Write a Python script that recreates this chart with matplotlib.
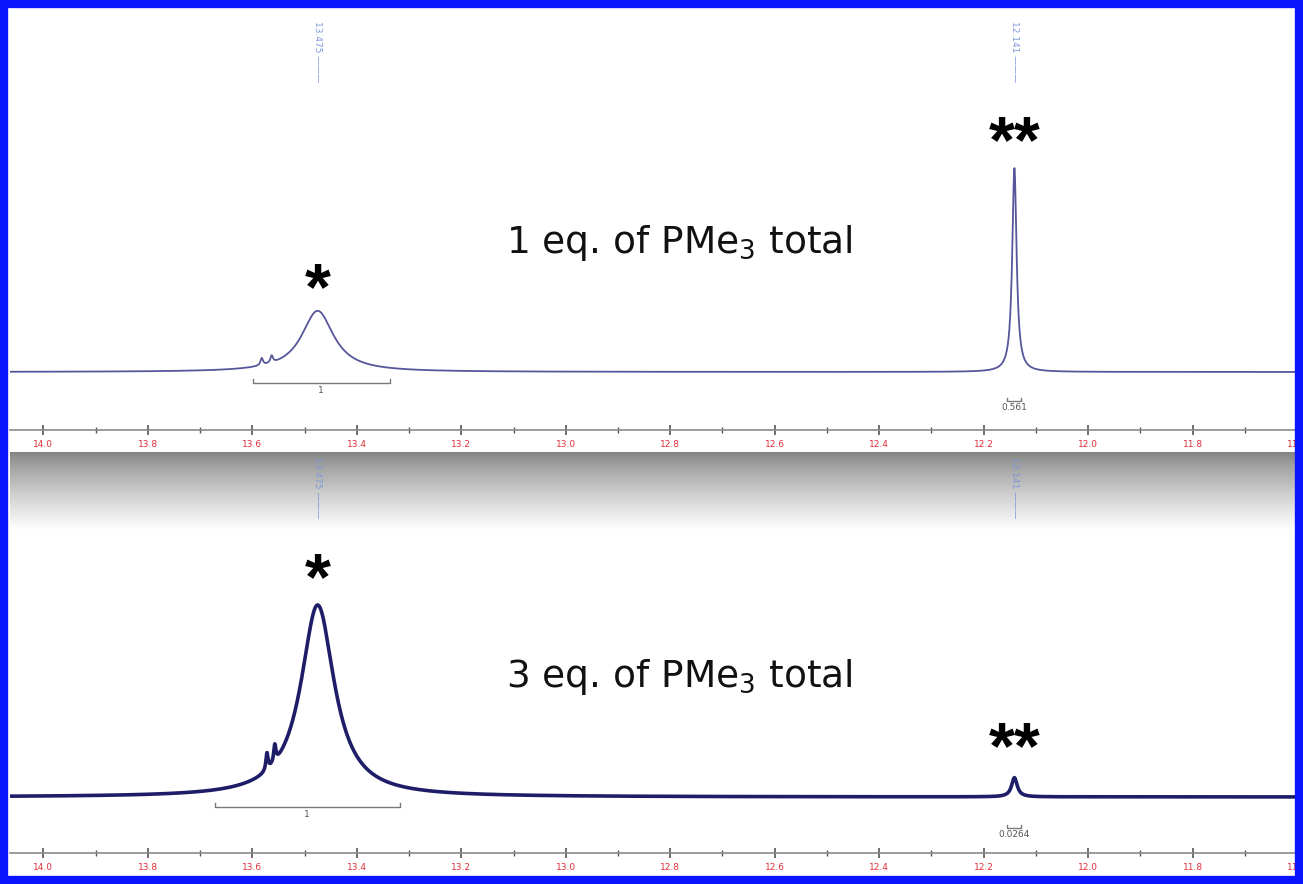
import matplotlib
matplotlib.use("Agg")
import matplotlib.pyplot as plt
import numpy as np
from matplotlib.patches import Rectangle

W, H = 1303, 884

# chemical shift axis (ppm)
TICK_PPM = [14.0, 13.8, 13.6, 13.4, 13.2, 13.0, 12.8, 12.6, 12.4, 12.2, 12.0, 11.8, 11.6]
TICK_LABELS = ["14.0", "13.8", "13.6", "13.4", "13.2", "13.0", "12.8", "12.6",
               "12.4", "12.2", "12.0", "11.8", "11.6"]
XLIM = (14.064, 11.601)

# peaks: position (ppm), relative height, width (ppm)
TOP_POS = [13.475, 13.582, 13.563, 12.141]
TOP_HEIGHT = [0.30, 0.035, 0.035, 1.0]
TOP_FWHM = [0.075, 0.006, 0.006, 0.010]

BOT_POS = [13.475, 13.572, 13.557, 12.141]
BOT_HEIGHT = [1.0, 0.09, 0.09, 0.10]
BOT_FWHM = [0.078, 0.005, 0.005, 0.013]

# peak picking labels
TOP_PICKS = [(13.475, "13.475"), (12.141, "12.141")]
BOT_PICKS = [(13.475, "13.475"), (12.141, "12.141")]

# integration regions and values
TOP_INTEGRALS = [((13.599, 13.337), "1"), ((12.155, 12.128), "0.561")]
BOT_INTEGRALS = [((13.672, 13.318), "1"), ((12.155, 12.128), "0.0264")]

TOP_TITLE = "1 eq. of PMe$_3$ total"
BOT_TITLE = "3 eq. of PMe$_3$ total"


def fx(px):
    return px / W


def fy(py):
    return 1 - py / H


def spectrum(ppm, pos, height, fwhm):
    y = np.zeros_like(ppm)
    for p, h, w in zip(pos, height, fwhm):
        g = w / 2
        y += h * g ** 2 / ((ppm - p) ** 2 + g ** 2)
    return y


def style_axis(ax):
    ax.set_xlim(*XLIM)
    ax.patch.set_alpha(0)
    for s in ("top", "left", "right"):
        ax.spines[s].set_visible(False)
    ax.spines["bottom"].set_color("#8a8a8a")
    ax.spines["bottom"].set_linewidth(1.2)
    ax.set_yticks([])
    ax.set_xticks(TICK_PPM)
    ax.set_xticklabels(TICK_LABELS)
    ax.set_xticks(np.array(TICK_PPM[:-1]) - 0.1, minor=True)
    ax.tick_params(axis="x", which="major", direction="inout", length=7, width=1.2,
                   color="#555555", labelcolor="#e0303a", labelsize=6.5, pad=4)
    ax.tick_params(axis="x", which="minor", direction="inout", length=4, width=1,
                   color="#555555")


def integral(ax, rng, lab, ybar, tick):
    a, b = rng
    ax.plot([a, a, b, b], [ybar + tick, ybar, ybar, ybar + tick], color="#7a7a7a", lw=1)
    ax.text((a + b) / 2, ybar - abs(tick) * 0.8, lab, ha="center", va="top",
            fontsize=6.5, color="#555555")


def picks(ax, items, top):
    for x, lab in items:
        ax.text(x, top, lab + " ———", rotation=270, ha="center", va="top",
                fontsize=6.5, color="#7e98d8")


def stars(ax, x, y, s):
    ax.text(x, y, s, ha="center", va="center", fontsize=48, fontweight="bold",
            family="Liberation Sans", color="black")


ppm = np.linspace(XLIM[1], XLIM[0], 6000)

fig = plt.figure(figsize=(W / 100, H / 100), dpi=100)

# grey separator band with fade to white
gax = fig.add_axes([fx(10), fy(530), fx(1297) - fx(10), fy(452) - fy(530)])
grad = np.linspace(0, 1, 200) ** 0.8
gax.imshow(np.column_stack([0.50 + 0.5 * grad] * 2), aspect="auto", cmap="gray",
           vmin=0, vmax=1, extent=[0, 1, 0, 1], origin="upper")
gax.axis("off")

# top panel
ax1 = fig.add_axes([fx(10), fy(430), fx(1297) - fx(10), fy(15) - fy(430)])
style_axis(ax1)
ax1.set_ylim(-58 / 204, 357 / 204)
ax1.plot(ppm, spectrum(ppm, TOP_POS, TOP_HEIGHT, TOP_FWHM), color="#56569a", lw=1.3)
integral(ax1, *TOP_INTEGRALS[0], -11 / 204, 4 / 204)
integral(ax1, *TOP_INTEGRALS[1], -29 / 204, 3 / 204)
picks(ax1, TOP_PICKS, 1.72)
stars(ax1, 13.475, 0.39, "*")
stars(ax1, 12.141, 1.11, "**")
ax1.text(0.52, 0.45, TOP_TITLE, transform=ax1.transAxes, ha="center", va="center",
         fontsize=27, family="DejaVu Sans", color="#111111")

# bottom panel
ax2 = fig.add_axes([fx(10), fy(853), fx(1297) - fx(10), fy(452) - fy(853)])
style_axis(ax2)
ax2.set_ylim(-56 / 192, 345 / 192)
ax2.plot(ppm, spectrum(ppm, BOT_POS, BOT_HEIGHT, BOT_FWHM), color="#1e1e68", lw=2.6)
integral(ax2, *BOT_INTEGRALS[0], -10 / 192, 4 / 192)
integral(ax2, *BOT_INTEGRALS[1], -31 / 192, 3 / 192)
picks(ax2, BOT_PICKS, 1.77)
stars(ax2, 13.475, 1.12, "*")
stars(ax2, 12.141, 0.24, "**")
ax2.text(0.52, 0.44, BOT_TITLE, transform=ax2.transAxes, ha="center", va="center",
         fontsize=27, family="DejaVu Sans", color="#111111")

# blue frame
fig.patches.append(Rectangle((fx(4), fy(880)), fx(1299) - fx(4), fy(4) - fy(880),
                             transform=fig.transFigure, fill=False,
                             edgecolor="#0a14ff", linewidth=6))

fig.savefig("out.png", dpi=100)
